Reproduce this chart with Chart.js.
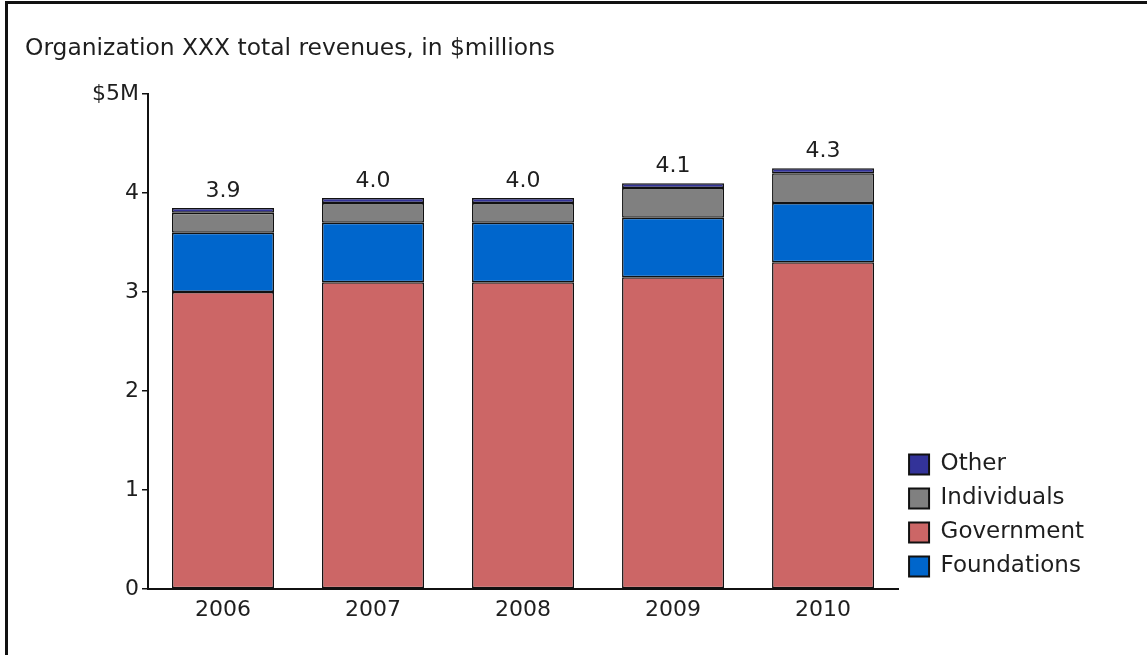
<!DOCTYPE html>
<html>
<head>
<meta charset="utf-8">
<script src="https://cdn.jsdelivr.net/npm/chart.js@4"></script>
<style>
  html, body { margin: 0; padding: 0; background: #fff; overflow: hidden; }
  #frame { position: absolute; left: 5px; top: 1px; width: 1150px; height: 660px;
           border-left: 3px solid #111; border-top: 3px solid #111; }
  #wrap { position: absolute; left: 8px; top: 4px; width: 1139px; height: 651px; }
</style>
</head>
<body>
<div id="frame"></div>
<div id="wrap"><canvas id="bar-chart"></canvas></div>
<script>
// values in $ millions
var years = ['2006', '2007', '2008', '2009', '2010'];
var government = [3.0, 3.1, 3.1, 3.15, 3.3];
var foundations = [0.6, 0.6, 0.6, 0.6, 0.6];
var individuals = [0.2, 0.2, 0.2, 0.3, 0.3];
var other = [0.05, 0.05, 0.05, 0.05, 0.05];
var totals = ['3.9', '4.0', '4.0', '4.1', '4.3'];
var legendOrder = ['Other', 'Individuals', 'Government', 'Foundations'];

var FONT = "'DejaVu Sans', Verdana, sans-serif";
var INK = '#1e1e1e';

// total above each stack
var totalLabels = {
	id: 'totalLabels',
	afterDatasetsDraw: function(chart) {
		var ctx = chart.ctx;
		var top = chart.getDatasetMeta(3).data;
		ctx.save();
		ctx.font = '22px ' + FONT;
		ctx.fillStyle = INK;
		ctx.textAlign = 'center';
		ctx.textBaseline = 'alphabetic';
		top.forEach(function(bar, i) {
			ctx.fillText(totals[i], bar.x, bar.y - 11);
		});
		ctx.restore();
	}
};

new Chart(document.getElementById('bar-chart'), {
	type: 'bar',
	data: {
		labels: years,
		datasets: [
			{ label: 'Government', data: government, backgroundColor: '#cc6666' },
			{ label: 'Foundations', data: foundations, backgroundColor: '#0066cc' },
			{ label: 'Individuals', data: individuals, backgroundColor: '#808080' },
			{ label: 'Other', data: other, backgroundColor: '#333399' }
		].map(function(d) {
			d.borderColor = '#111';
			d.borderWidth = 1.5;
			d.borderSkipped = false;
			d.barPercentage = 0.68;
			d.categoryPercentage = 1.0;
			return d;
		})
	},
	options: {
		responsive: true,
		maintainAspectRatio: false,
		animation: false,
		layout: { padding: { left: 17, right: 53, top: 0, bottom: 0 } },
		plugins: {
			title: {
				display: true,
				text: 'Organization XXX total revenues, in $millions',
				align: 'start',
				color: INK,
				font: { family: FONT, size: 23.4, weight: 'normal' },
				padding: { top: 31, bottom: 31 }
			},
			legend: {
				position: 'right',
				align: 'end',
				fullSize: false,
				labels: {
					color: INK,
					font: { family: FONT, size: 23 },
					boxWidth: 20,
					boxHeight: 20,
					padding: 11,
					sort: function(a, b) {
						return legendOrder.indexOf(a.text) - legendOrder.indexOf(b.text);
					},
					generateLabels: function(chart) {
						var items = Chart.defaults.plugins.legend.labels.generateLabels(chart);
						items.forEach(function(it) { it.lineWidth = 2; it.strokeStyle = '#111'; });
						return items;
					}
				}
			},
			tooltip: { enabled: false }
		},
		scales: {
			x: {
				stacked: true,
				grid: { display: false },
				border: { display: true, color: '#111', width: 2 },
				ticks: { color: INK, font: { family: FONT, size: 22 }, padding: 0 },
				afterFit: function(s) { s.height = 66; }
			},
			y: {
				stacked: true,
				min: 0,
				max: 5,
				grid: { display: true, drawOnChartArea: false, drawTicks: true, tickLength: 6, color: '#111', lineWidth: 1.5 },
				border: { display: true, color: '#111', width: 2 },
				ticks: {
					stepSize: 1,
					color: INK,
					padding: 3,
					font: { family: FONT, size: 22 },
					callback: function(v) { return v === 5 ? '$5M' : v; }
				},
				afterFit: function(s) { s.width = 123; }
			}
		}
	},
	plugins: [totalLabels]
});
</script>
</body>
</html>
